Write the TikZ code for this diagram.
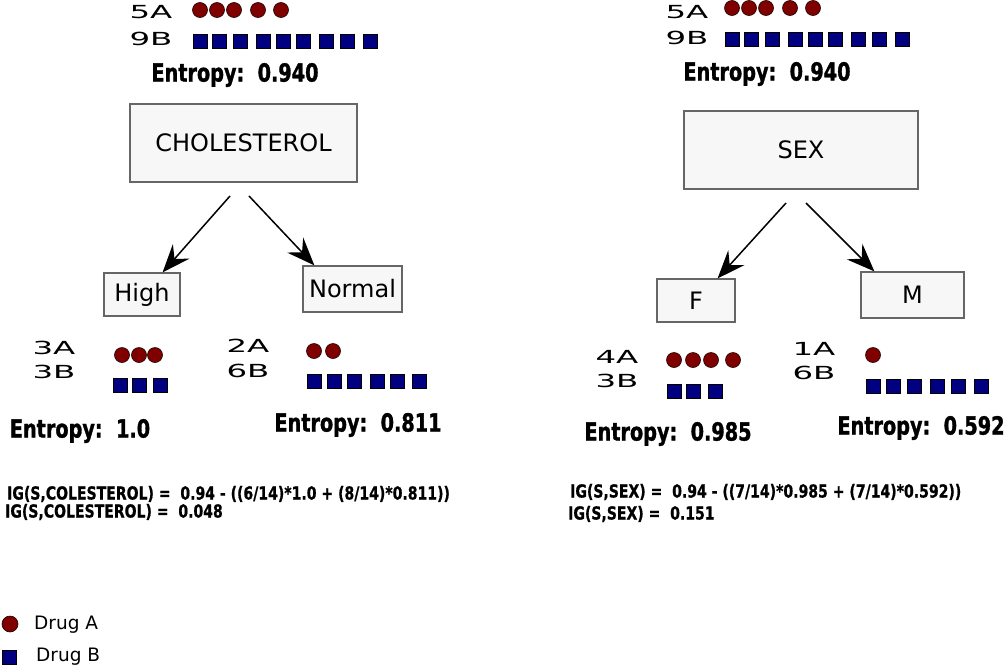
\documentclass[tikz,border=0pt]{standalone}
\usepackage{fontspec}
\setmainfont{DejaVu Sans}
\newfontfamily\condfont[FakeStretch=0.77, BoldFeatures={FakeBold=1.2}]{DejaVu Sans}
\newfontfamily\igfont[FakeStretch=0.78, BoldFeatures={FakeBold=0.8}]{DejaVu Sans}
\newfontfamily\widefont[FakeStretch=1.8]{DejaVu Sans}
\usepackage{tikz}
\usetikzlibrary{arrows.meta,positioning}
\definecolor{druga}{HTML}{800000}
\definecolor{drugb}{HTML}{000080}
\tikzstyle{box}=[draw=black!60, fill=black!3, line width=1.2pt, inner sep=0,
        font=\fontsize{24}{28}\selectfont]
\tikzstyle{cnt}=[inner sep=0, font=\widefont\fontsize{18}{21}\selectfont]
\tikzstyle{ent}=[inner sep=0, font=\condfont\bfseries\fontsize{25}{30}\selectfont]
\tikzstyle{ig}=[inner sep=0, anchor=west, font=\igfont\bfseries\fontsize{18}{21}\selectfont]
\tikzstyle{lgd}=[inner sep=0, anchor=west, font=\fontsize{18.5}{22}\selectfont]
\tikzstyle{dota}=[fill=druga, draw=black!80!druga, line width=0.6pt]
\tikzstyle{dotb}=[fill=drugb, draw=black, line width=0.4pt]
\tikzstyle{arr}=[line width=1.5pt, -{Stealth[length=28pt, width=22pt, inset=10pt]}]

\begin{document}
\begin{tikzpicture}[x=1pt, y=-1pt]
        \useasboundingbox (0,0) rectangle (1004,667);

        % left tree: CHOLESTEROL
        \node[cnt] (la) at (151,12) {5A};
        \node[cnt] (lb) at (151,39) {9B};
        \foreach \x in {200,217,234,258,281}
            \filldraw[dota] (\x,10) circle (7.5);
        \foreach \x in {200,219,240,263,283,303,326,347,370}
            \filldraw[dotb] (\x,41) +(-7,-7) rectangle +(7,7);
        \node[ent] (lent) at (235,75) {Entropy:\ \ 0.940};
        \node[box, minimum width=227, minimum height=78] (chol) at (243.5,143)
            {CHOLESTEROL};
        \node[box, minimum width=76, minimum height=43] (high) at (142,294.5)
            {High};
        \node[box, minimum width=99, minimum height=46] (normal) at (352.5,289)
            {Normal};
        \coordinate (cl) at (230,196);
        \coordinate (cr) at (249,196);
        \draw[arr] (cl) to ([xshift=-18]high.north east);
        \draw[arr] (cr) to ([xshift=12]normal.north west);

        \node[cnt] (ha) at (54,348) {3A};
        \node[cnt] (hb) at (54,372) {3B};
        \foreach \x in {122,139,155}
            \filldraw[dota] (\x,355) circle (7.5);
        \foreach \x in {120,139.5,160}
            \filldraw[dotb] (\x,385) +(-7,-7) rectangle +(7,7);
        \node[ent] (hent) at (80,431) {Entropy:\ \ 1.0};

        \node[cnt] (na) at (248,346) {2A};
        \node[cnt] (nb) at (248,371) {6B};
        \foreach \x in {314,333}
            \filldraw[dota] (\x,351) circle (7.5);
        \foreach \x in {314,334,354,377,397,419}
            \filldraw[dotb] (\x,381) +(-7,-7) rectangle +(7,7);
        \node[ent] (nent) at (358,425) {Entropy:\ \ 0.811};

        \node[ig] (lig1) at (7,494)
            {IG(S,COLESTEROL) = \ 0.94 - ((6/14)*1.0 + (8/14)*0.811))};
        \node[ig] (lig2) at (5,512) {IG(S,COLESTEROL) = \ 0.048};

        % right tree: SEX
        \node[cnt] (ra) at (687,12) {5A};
        \node[cnt] (rb) at (687,38) {9B};
        \foreach \x in {732,749,766,790,813}
            \filldraw[dota] (\x,8) circle (7.5);
        \foreach \x in {732,751.5,772,795,815,835,858,879,902}
            \filldraw[dotb] (\x,39) +(-7,-7) rectangle +(7,7);
        \node[ent] (rent) at (767,74) {Entropy:\ \ 0.940};
        \node[box, minimum width=234, minimum height=78] (sex) at (801,150)
            {SEX};
        \node[box, minimum width=78, minimum height=43] (fem) at (696,300.5)
            {F};
        \node[box, minimum width=103, minimum height=46] (male) at (912.5,295)
            {M};
        \coordinate (sl) at (786,203);
        \coordinate (sr) at (806,203);
        \draw[arr] (sl) to ([xshift=-18]fem.north east);
        \draw[arr] (sr) to ([xshift=14]male.north west);

        \node[cnt] (fa) at (617,357) {4A};
        \node[cnt] (fb) at (617,381) {3B};
        \foreach \x in {674,693,711,733}
            \filldraw[dota] (\x,360) circle (7.5);
        \foreach \x in {674,693,715}
            \filldraw[dotb] (\x,391) +(-7,-7) rectangle +(7,7);
        \node[ent] (fent) at (668,434) {Entropy:\ \ 0.985};

        \node[cnt] (ma) at (814,349) {1A};
        \node[cnt] (mb) at (814,373) {6B};
        \filldraw[dota] (873,355) circle (7.5);
        \foreach \x in {873,893,914,937,958,981}
            \filldraw[dotb] (\x,386) +(-7,-7) rectangle +(7,7);
        \node[ent] (ment) at (921,428) {Entropy:\ \ 0.592};

        \node[ig] (rig1) at (570,492)
            {IG(S,SEX) = \ 0.94 - ((7/14)*0.985 + (7/14)*0.592))};
        \node[ig] (rig2) at (568,514) {IG(S,SEX) = \ 0.151};

        % legend
        \filldraw[dota] (10,624) circle (8);
        \node[lgd] (lga) at (34,625) {Drug A};
        \filldraw[dotb] (9,657) +(-7,-7) rectangle +(7,7);
        \node[lgd] (lgb) at (36,657) {Drug B};

    \end{tikzpicture}
\end{document}
